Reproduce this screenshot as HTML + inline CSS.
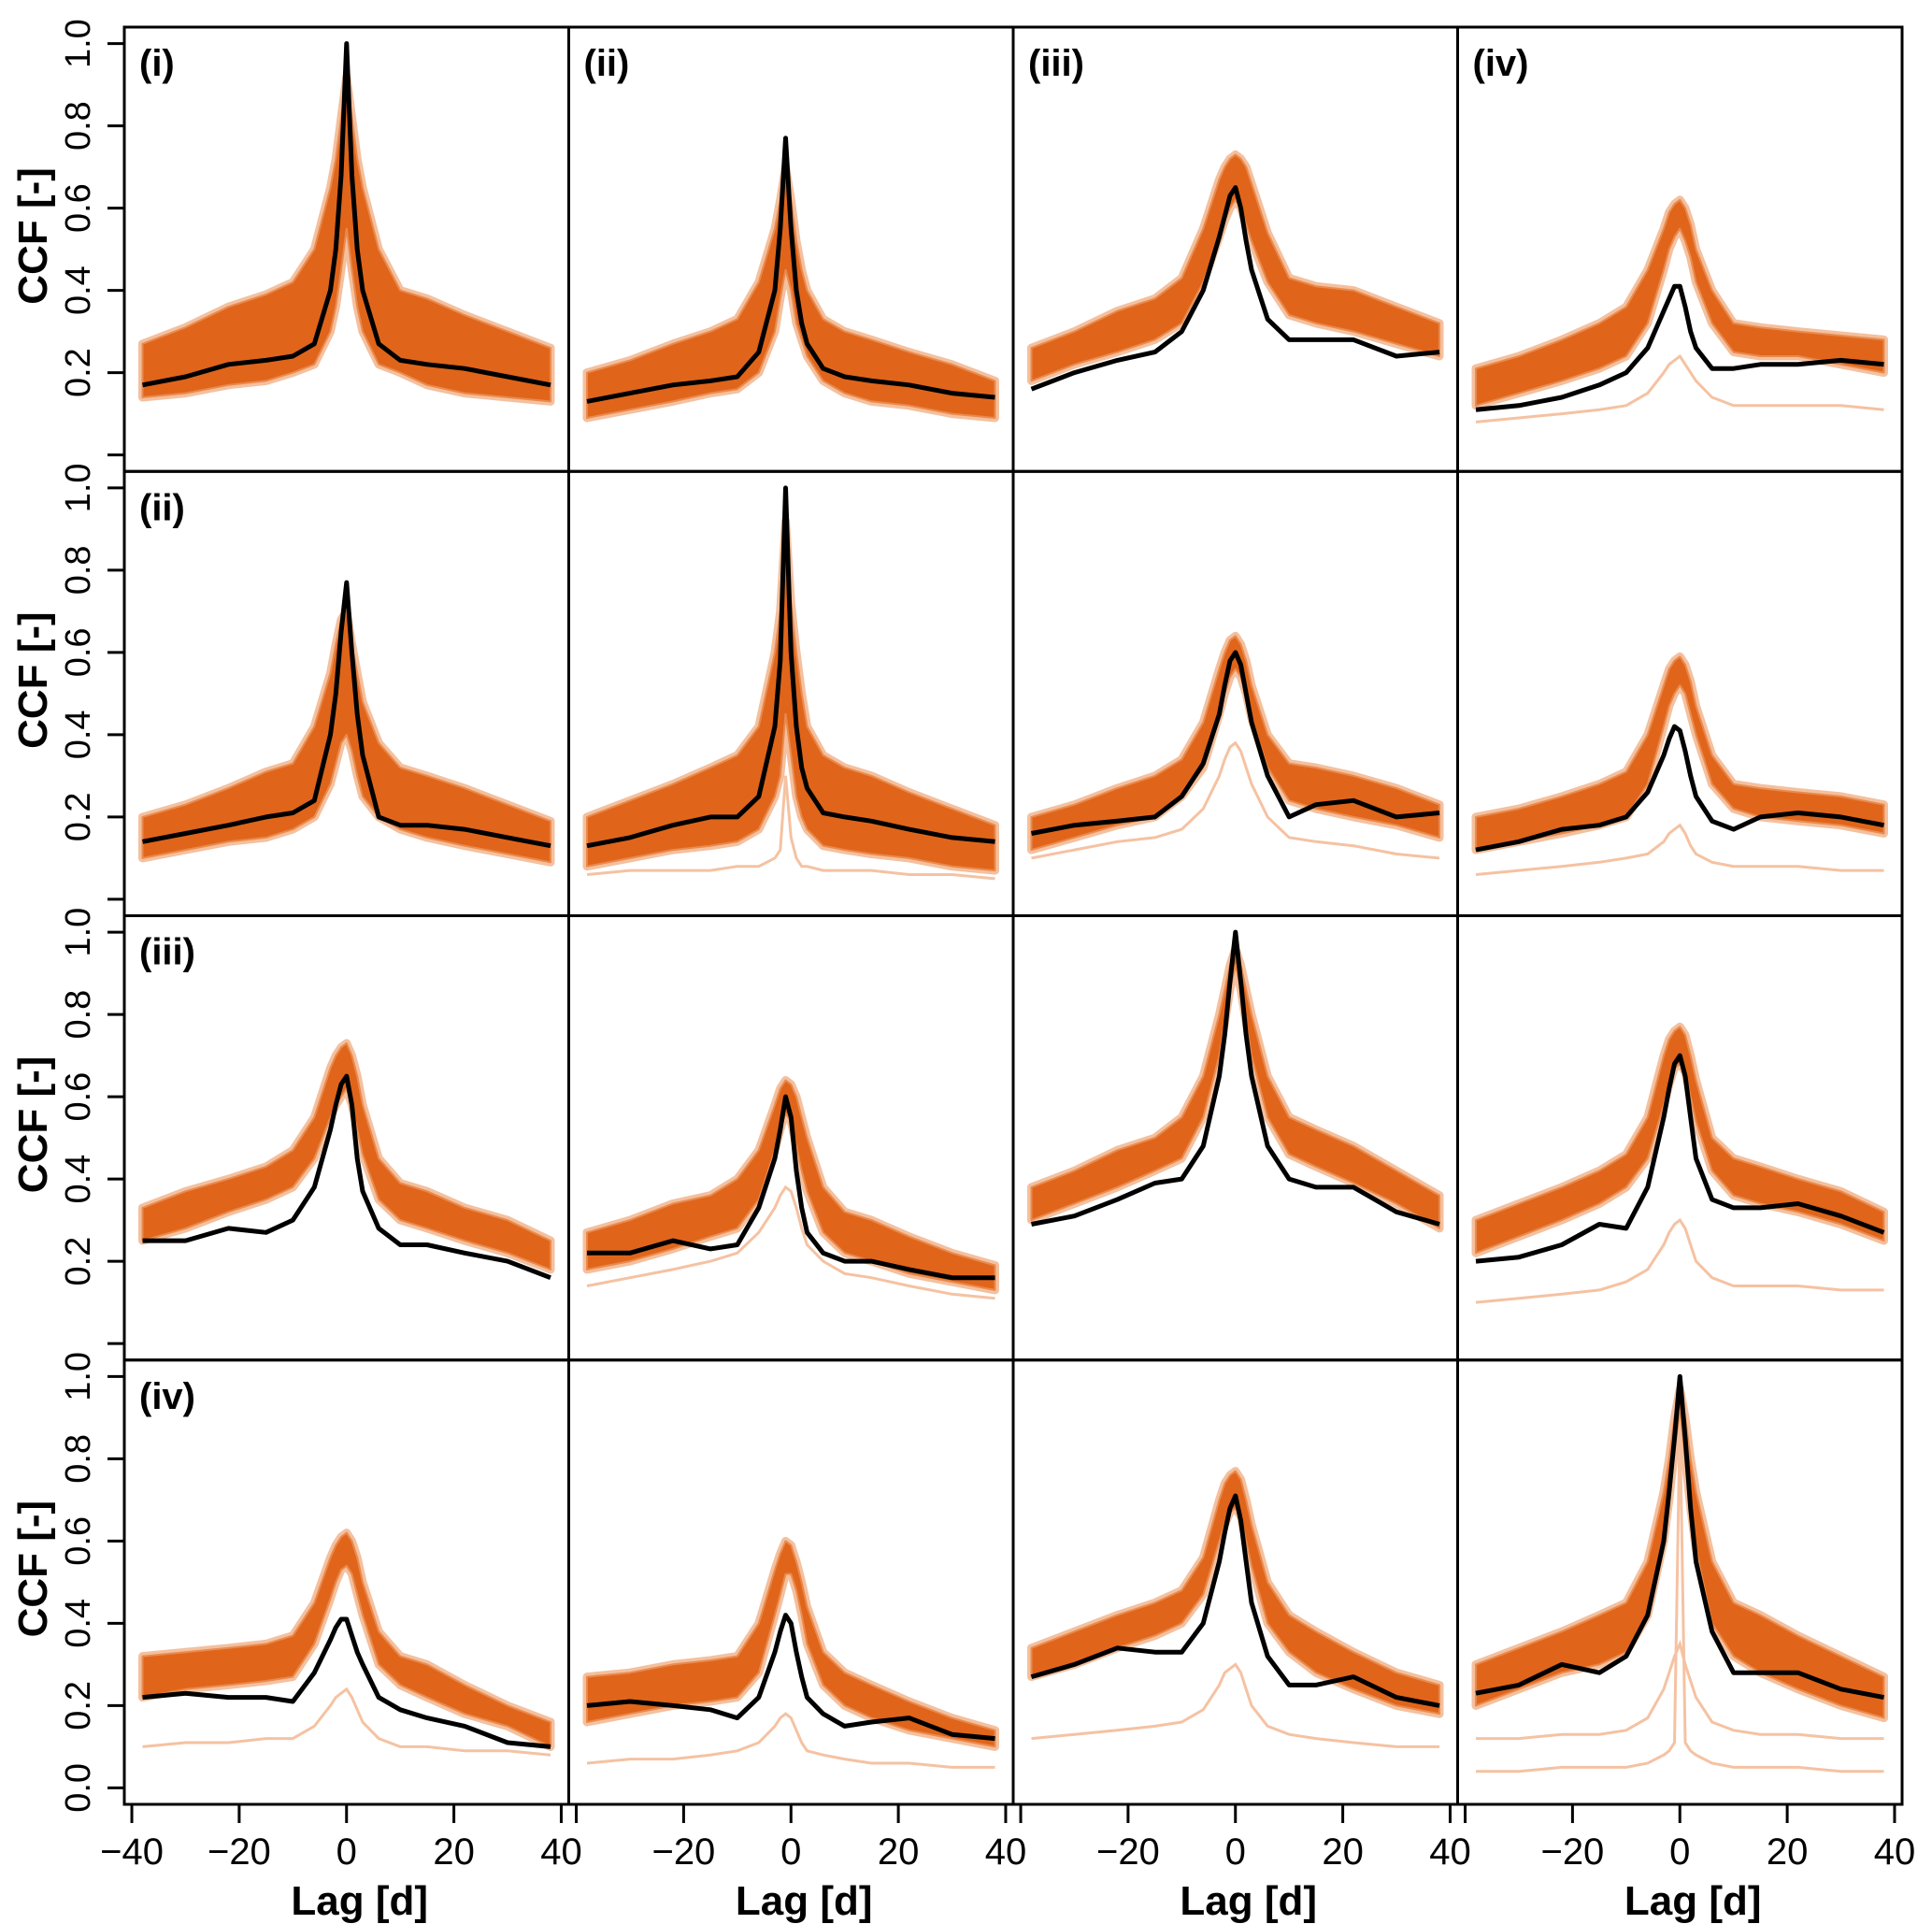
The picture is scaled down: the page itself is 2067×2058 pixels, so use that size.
<!DOCTYPE html>
<html><head><meta charset="utf-8">
<style>
html,body{margin:0;padding:0;background:#fff;}
svg{display:block;font-family:"Liberation Sans",Arial,sans-serif;}
</style></head>
<body>
<svg id="chart" width="2067" height="2058" viewBox="0 0 2067 2058" xmlns="http://www.w3.org/2000/svg"></svg>
<script>
// lag grid
const lags = [-38,-30,-22,-15,-10,-6,-3,-2,-1,0,1,2,3,6,10,15,22,30,38];
const xTicks = [-40,-20,0,20,40];
const yTicks = [0,0.2,0.4,0.6,0.8,1.0];
const yTickLabels = ["0.0","0.2","0.4","0.6","0.8","1.0"];
const panelLabels = ["(i)","(ii)","(iii)","(iv)"];

// observed (black) series, per panel row-major
const obs11=[.17,.19,.22,.23,.24,.27,.40,.50,.68,1.0,.68,.50,.40,.27,.23,.22,.21,.19,.17];
const obs12=[.13,.15,.17,.18,.19,.25,.40,.55,.77,.55,.40,.32,.27,.21,.19,.18,.17,.15,.14];
const obs13=[.16,.20,.23,.25,.30,.40,.53,.58,.63,.65,.60,.52,.45,.33,.28,.28,.28,.24,.25];
const obs14=[.11,.12,.14,.17,.20,.26,.35,.38,.41,.41,.36,.30,.26,.21,.21,.22,.22,.23,.22];
const obs21=[.14,.16,.18,.20,.21,.24,.40,.50,.65,.77,.60,.45,.35,.20,.18,.18,.17,.15,.13];
const obs22=[.13,.15,.18,.20,.20,.25,.42,.58,1.0,.60,.42,.32,.27,.21,.20,.19,.17,.15,.14];
const obs23=[.16,.18,.19,.20,.25,.33,.45,.52,.58,.60,.57,.50,.43,.30,.20,.23,.24,.20,.21];
const obs24=[.12,.14,.17,.18,.20,.26,.35,.39,.42,.41,.36,.30,.25,.19,.17,.20,.21,.20,.18];
const obs31=[.25,.25,.28,.27,.30,.38,.52,.58,.63,.65,.58,.45,.37,.28,.24,.24,.22,.20,.16];
const obs32=[.22,.22,.25,.23,.24,.33,.45,.52,.60,.55,.42,.33,.27,.22,.20,.20,.18,.16,.16];
const obs33=[.29,.31,.35,.39,.40,.48,.65,.75,.88,1.0,.88,.75,.65,.48,.40,.38,.38,.32,.29];
const obs34=[.20,.21,.24,.29,.28,.38,.55,.62,.68,.70,.65,.55,.45,.35,.33,.33,.34,.31,.27];
const obs41=[.22,.23,.22,.22,.21,.28,.36,.39,.41,.41,.37,.33,.30,.22,.19,.17,.15,.11,.10];
const obs42=[.20,.21,.20,.19,.17,.22,.33,.38,.42,.40,.33,.27,.22,.18,.15,.16,.17,.13,.12];
const obs43=[.27,.30,.34,.33,.33,.40,.55,.62,.68,.71,.65,.55,.45,.32,.25,.25,.27,.22,.20];
const obs44=[.23,.25,.30,.28,.32,.42,.60,.72,.85,1.0,.85,.68,.55,.38,.28,.28,.28,.24,.22];

// simulated ensemble lower / upper envelopes
const lo11=[.14,.15,.17,.18,.20,.22,.30,.36,.45,.55,.45,.36,.30,.22,.20,.17,.15,.14,.13];
const hi11=[.27,.31,.36,.39,.42,.50,.65,.72,.82,.92,.82,.72,.65,.50,.40,.38,.34,.30,.26];
const lo12=[.09,.11,.13,.15,.16,.20,.30,.38,.45,.40,.32,.28,.24,.18,.15,.13,.12,.10,.09];
const hi12=[.20,.23,.27,.30,.33,.42,.55,.62,.70,.62,.52,.45,.40,.33,.30,.28,.25,.22,.18];
const lo13=[.18,.22,.25,.28,.32,.42,.53,.57,.60,.62,.60,.56,.52,.42,.34,.32,.30,.27,.24];
const hi13=[.26,.30,.35,.38,.43,.55,.67,.70,.72,.73,.72,.70,.66,.54,.43,.41,.40,.36,.32];
const lo14=[.12,.15,.18,.21,.24,.32,.45,.50,.53,.55,.52,.48,.42,.32,.25,.24,.24,.22,.20];
const hi14=[.21,.24,.28,.32,.36,.45,.55,.59,.61,.62,.60,.56,.50,.40,.32,.31,.30,.29,.28];
const lo21=[.10,.12,.14,.15,.17,.20,.28,.33,.38,.40,.36,.30,.25,.20,.17,.15,.13,.11,.09];
const hi21=[.20,.23,.27,.31,.33,.42,.55,.62,.68,.70,.62,.55,.48,.38,.32,.30,.27,.23,.19];
const lo22=[.08,.10,.12,.13,.14,.17,.25,.30,.45,.35,.25,.20,.17,.13,.12,.11,.10,.08,.07];
const hi22=[.20,.24,.28,.32,.35,.42,.60,.70,.92,.72,.60,.50,.42,.35,.32,.30,.26,.22,.18];
const lo23=[.12,.15,.18,.20,.25,.32,.45,.50,.54,.56,.54,.50,.44,.32,.24,.22,.20,.18,.15];
const hi23=[.20,.23,.27,.30,.34,.43,.56,.60,.63,.64,.62,.58,.52,.40,.33,.32,.30,.27,.23];
const lo24=[.12,.14,.16,.18,.20,.28,.42,.47,.50,.52,.50,.45,.40,.28,.22,.20,.19,.18,.16];
const hi24=[.20,.22,.25,.28,.31,.40,.52,.56,.58,.59,.57,.53,.47,.35,.28,.27,.26,.25,.23];
const lo31=[.25,.28,.32,.35,.38,.45,.55,.58,.60,.62,.58,.52,.46,.35,.30,.28,.25,.22,.18];
const hi31=[.33,.37,.40,.43,.47,.55,.67,.70,.72,.73,.70,.65,.58,.45,.39,.37,.33,.30,.25];
const lo32=[.18,.20,.23,.26,.28,.35,.47,.52,.56,.54,.48,.42,.37,.27,.22,.20,.17,.15,.13];
const hi32=[.27,.30,.34,.36,.40,.47,.58,.62,.64,.63,.60,.55,.50,.38,.32,.30,.26,.22,.19];
const lo33=[.30,.34,.38,.42,.45,.55,.70,.78,.86,.92,.86,.78,.70,.55,.46,.43,.39,.34,.28];
const hi33=[.38,.42,.47,.50,.55,.65,.80,.86,.92,.96,.92,.86,.80,.65,.55,.52,.48,.42,.36];
const lo34=[.22,.26,.30,.34,.38,.45,.58,.63,.67,.68,.66,.60,.54,.42,.36,.34,.32,.29,.25];
const hi34=[.30,.34,.38,.42,.46,.55,.70,.74,.76,.77,.75,.70,.64,.50,.45,.43,.40,.37,.32];
const lo41=[.22,.24,.25,.26,.27,.35,.46,.50,.53,.54,.52,.47,.42,.30,.25,.22,.18,.15,.10];
const hi41=[.32,.33,.34,.35,.37,.45,.56,.59,.61,.62,.60,.56,.50,.38,.32,.30,.25,.20,.16];
const lo42=[.16,.18,.20,.21,.22,.28,.42,.47,.52,.52,.48,.42,.35,.25,.20,.17,.14,.12,.10];
const hi42=[.27,.28,.30,.31,.32,.40,.53,.57,.60,.59,.55,.50,.44,.33,.28,.25,.21,.17,.14];
const lo43=[.27,.30,.34,.37,.40,.47,.60,.64,.67,.68,.66,.60,.54,.40,.33,.28,.24,.20,.18];
const hi43=[.34,.38,.42,.45,.48,.56,.70,.74,.76,.77,.75,.70,.64,.50,.42,.38,.33,.28,.25];
const lo44=[.20,.24,.28,.30,.33,.42,.60,.70,.82,.92,.80,.68,.58,.40,.32,.28,.24,.20,.17];
const hi44=[.30,.34,.38,.42,.45,.55,.72,.80,.90,.97,.90,.80,.72,.55,.45,.42,.37,.32,.27];

// outlier simulation members
const out14=[.08,.09,.10,.11,.12,.15,.20,.22,.23,.24,.22,.20,.18,.14,.12,.12,.12,.12,.11];
const out22=[.06,.07,.07,.07,.08,.08,.10,.12,.30,.15,.10,.08,.08,.07,.07,.07,.06,.06,.05];
const out23=[.10,.12,.14,.15,.17,.22,.30,.34,.37,.38,.36,.32,.28,.20,.15,.14,.13,.11,.10];
const out24=[.06,.07,.08,.09,.10,.11,.14,.16,.17,.18,.16,.13,.11,.09,.08,.08,.08,.07,.07];
const out32=[.14,.16,.18,.20,.22,.27,.33,.36,.38,.37,.33,.28,.24,.20,.17,.16,.14,.12,.11];
const out34=[.10,.11,.12,.13,.15,.18,.24,.27,.29,.30,.28,.24,.20,.16,.14,.14,.14,.13,.13];
const out41=[.10,.11,.11,.12,.12,.15,.20,.22,.23,.24,.22,.19,.16,.12,.10,.10,.09,.09,.08];
const out42=[.06,.07,.07,.08,.09,.11,.15,.17,.18,.17,.14,.11,.09,.08,.07,.06,.06,.05,.05];
const out43=[.12,.13,.14,.15,.16,.19,.25,.28,.29,.30,.28,.24,.20,.15,.13,.12,.11,.10,.10];
const out44a=[.04,.04,.05,.05,.05,.06,.08,.09,.11,.90,.11,.09,.08,.06,.05,.05,.05,.04,.04];
const out44b=[.12,.12,.13,.13,.14,.17,.24,.28,.32,.35,.30,.26,.22,.16,.14,.13,.13,.12,.12];

const panels = [
 [obs11,lo11,hi11,[]],[obs12,lo12,hi12,[]],[obs13,lo13,hi13,[]],[obs14,lo14,hi14,[out14]],
 [obs21,lo21,hi21,[]],[obs22,lo22,hi22,[out22]],[obs23,lo23,hi23,[out23]],[obs24,lo24,hi24,[out24]],
 [obs31,lo31,hi31,[]],[obs32,lo32,hi32,[out32]],[obs33,lo33,hi33,[]],[obs34,lo34,hi34,[out34]],
 [obs41,lo41,hi41,[out41]],[obs42,lo42,hi42,[out42]],[obs43,lo43,hi43,[out43]],[obs44,lo44,hi44,[out44a,out44b]]
];

const NS="http://www.w3.org/2000/svg";
const svg=document.getElementById('chart');
const L0=133, T0=29, PW=475.5, PH=475.25;
function mk(tag,attrs,parent){const e=document.createElementNS(NS,tag);for(const k in attrs)e.setAttribute(k,attrs[k]);(parent||svg).appendChild(e);return e;}
function xScale(c,v){return L0+c*PW+PW/2+v*(PW/82.8);}
function yScale(r,v){const b=T0+(r+1)*PH;return b-(v+0.04)/1.08*PH;}
function pts(r,c,arr){return arr.map((v,i)=>xScale(c,lags[i]).toFixed(1)+','+yScale(r,v).toFixed(1)).join(' ');}

for(let r=0;r<4;r++){for(let c=0;c<4;c++){
  const [ob,lo,hi,outs]=panels[r*4+c];
  const g=mk('g',{});
  
  
  outs.forEach(o=>{
    const pl=mk('polyline',{points:pts(r,c,o),fill:'none',stroke:'#F5C2A2','stroke-width':3},g);
    
    
  });
  const loBack=lo.map((v,i)=>xScale(c,lags[i]).toFixed(1)+','+yScale(r,v).toFixed(1)).reverse().join(' ');
  const halo=mk('polygon',{points:pts(r,c,hi)+' '+loBack,fill:'#F2B58E',stroke:'#F4C09E','stroke-width':9,'stroke-linejoin':'round'},g);
  
  
  const band=mk('polygon',{points:pts(r,c,hi)+' '+loBack,fill:'#E0651A',stroke:'#E98A4E','stroke-width':2,'stroke-linejoin':'round'},g);
  
  
  const ln=mk('polyline',{points:pts(r,c,ob),fill:'none',stroke:'#000','stroke-width':5,'stroke-linejoin':'round'},g);
  
  
  const fr=mk('rect',{x:L0+c*PW,y:T0+r*PH,width:PW,height:PH,fill:'none',stroke:'#000','stroke-width':3},g);
  
  
}}

// panel labels
for(let c=0;c<4;c++){
  const t=mk('text',{x:L0+c*PW+16,y:T0+52,'font-size':40,'font-weight':'bold'});
  t.textContent=panelLabels[c];
  
  
}
for(let r=1;r<4;r++){
  const t=mk('text',{x:L0+16,y:T0+r*PH+52,'font-size':40,'font-weight':'bold'});
  t.textContent=panelLabels[r];
  
  
}

// y axes
for(let r=0;r<4;r++){
  yTicks.forEach((v,i)=>{
    const y=yScale(r,v);
    const tk=mk('line',{x1:L0-18,x2:L0,y1:y,y2:y,stroke:'#000','stroke-width':3});
    
    
    if(r<3&&i===0)return;
    const t=mk('text',{x:0,y:0,'font-size':38,'text-anchor':'middle',transform:'translate(96,'+y.toFixed(1)+') rotate(-90)'});
    t.textContent=yTickLabels[i];
    
    
  });
  const yt=mk('text',{x:0,y:0,'font-size':44,'font-weight':'bold','text-anchor':'middle',transform:'translate(50,'+(T0+r*PH+PH*0.47).toFixed(1)+') rotate(-90)'});
  yt.textContent='CCF [-]';
  
  
}

// x axes
const B=T0+4*PH;
for(let c=0;c<4;c++){
  xTicks.forEach((v,i)=>{
    const x=xScale(c,v);
    const tk=mk('line',{x1:x,x2:x,y1:B,y2:B+20,stroke:'#000','stroke-width':3});
    
    
    if(c>0&&i===0)return;
    const t=mk('text',{x:x,y:B+64,'font-size':40,'text-anchor':'middle'});
    t.textContent=(v<0?'\u2212':'')+Math.abs(v);
    
    
  });
  const xt=mk('text',{x:xScale(c,0)+14,y:B+118,'font-size':44,'font-weight':'bold','text-anchor':'middle'});
  xt.textContent='Lag [d]';
  
  
}
</script>
</body></html>
